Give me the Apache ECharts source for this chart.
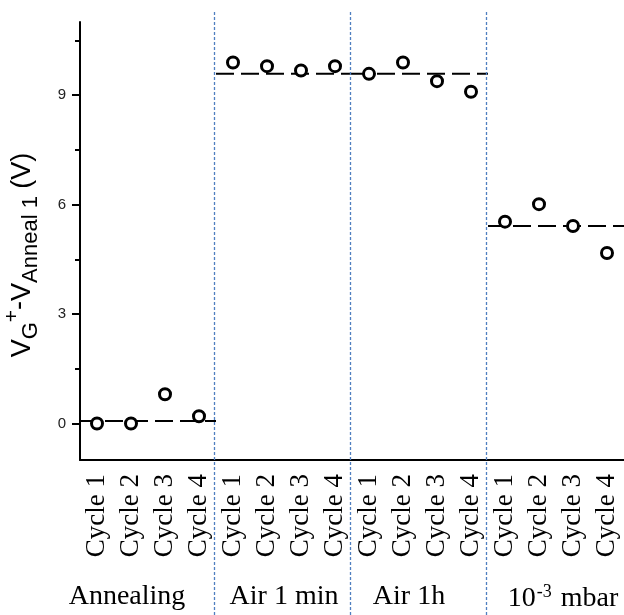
<!DOCTYPE html>
<html>
<head>
<meta charset="utf-8">
<script src="https://cdn.jsdelivr.net/npm/echarts@6/dist/echarts.min.js"></script>
<style>
  html, body { margin: 0; padding: 0; background: #fff; }
  #chart { width: 624px; height: 615px; }
</style>
</head>
<body>
<div id="chart"></div>
<script>
// Measurement conditions and cycle labels
const groups = ['Annealing', 'Air 1 min', 'Air 1h', '10-3 mbar'];
const cycleNames = ['Cycle 1', 'Cycle 2', 'Cycle 3', 'Cycle 4'];

// V_G+ - V_Anneal1 (V) per cycle, four cycles per condition
const annealing = [0.0, 0.0, 0.8, 0.2];
const air1min = [9.89, 9.79, 9.67, 9.79];
const air1h = [9.58, 9.89, 9.38, 9.09];
const vacuum = [5.53, 6.01, 5.41, 4.67];

// Average level drawn as a dashed line across each condition
const groupLevels = [0.07, 9.58, 9.58, 5.41];

// Y axis ticks
const yMajorTicks = [0, 3, 6, 9];
const yMinorTicks = [1.5, 4.5, 7.5, 10.5];

const categories = [];
groups.forEach(() => cycleNames.forEach(c => categories.push(c)));
const values = [].concat(annealing, air1min, air1h, vacuum);

const chart = echarts.init(document.getElementById('chart'));

const levelSeries = groupLevels.map((v, i) => ({
  type: 'line',
  xAxisIndex: 1,
  yAxisIndex: 0,
  symbol: 'none',
  silent: true,
  z: 1,
  lineStyle: { color: '#000', width: 2, type: [18, 7] },
  data: [[i * cycleNames.length, v], [(i + 1) * cycleNames.length, v]]
}));

const serif = 'Liberation Serif';
const sans = 'Liberation Sans';

// Group captions sit a little off-centre under their blocks
const base = { fontFamily: serif, fontSize: 28, color: '#000' };
const groupRich = {
  n: Object.assign({}, base),
  g0: Object.assign({ padding: [0, 42, 0, 0] }, base),
  g1: Object.assign({}, base),
  g2: Object.assign({ padding: [0, 22, 0, 0] }, base),
  g3: Object.assign({ padding: [0, 0, 0, 14] }, base),
  s: { fontFamily: serif, fontSize: 18, color: '#000', padding: [0, 2, 14, 1] }
};

chart.setOption({
  animation: false,
  backgroundColor: '#fff',
  grid: {
    left: 80, right: 0, top: 22, bottom: 155,
    containLabel: false, outerBoundsMode: 'none'
  },
  xAxis: [
    {
      type: 'category',
      data: categories,
      boundaryGap: true,
      axisLine: { onZero: false, lineStyle: { color: '#000', width: 2 } },
      axisTick: { alignWithLabel: true, length: 9, lineStyle: { color: '#000', width: 2 } },
      axisLabel: {
        rotate: 90, interval: 0, margin: 14,
        color: '#000', fontFamily: serif, fontSize: 27
      },
      splitLine: { show: false }
    },
    {
      type: 'value',
      min: 0, max: categories.length,
      show: false
    },
    {
      type: 'category',
      data: groups,
      position: 'bottom',
      offset: 123,
      axisLine: { show: false, onZero: false },
      axisTick: { show: false },
      axisLabel: {
        interval: 0, margin: 0,
        color: '#000', fontFamily: serif, fontSize: 28,
        formatter: function (v, idx) {
          const key = 'g' + idx;
          if (v === '10-3 mbar') {
            return '{' + key + '|10}{s|-3}{n| mbar}';
          }
          return '{' + key + '|' + v + '}';
        },
        rich: groupRich
      },
      splitLine: { show: false }
    }
  ],
  yAxis: [
    {
      type: 'value',
      min: -1, max: 11,
      axisLine: { show: true, onZero: false, lineStyle: { color: '#000', width: 2 } },
      axisTick: { show: true, length: 8, customValues: yMajorTicks, lineStyle: { color: '#000', width: 2 } },
      axisLabel: {
        customValues: yMajorTicks, margin: 14,
        color: '#222', fontFamily: sans, fontSize: 15
      },
      splitLine: { show: false },
      name: '{m|V}{sub|G}{sup|+}{mr|-}{m|V}{sub|Anneal 1}{m| (V)}',
      nameLocation: 'middle',
      nameGap: 37,
      nameRotate: 90,
      nameTextStyle: {
        padding: [0, 28, 0, 0],
        rich: {
          m: { fontFamily: sans, fontSize: 27, color: '#000' },
          mr: { fontFamily: sans, fontSize: 27, color: '#000', padding: [0, 0, 6, 0] },
          sub: { fontFamily: sans, fontSize: 22, color: '#000', padding: [16, 0, 0, 0] },
          sup: { fontFamily: sans, fontSize: 21, color: '#000', padding: [0, 0, 20, 0] }
        }
      }
    },
    {
      type: 'value',
      min: -1, max: 11,
      axisLine: { show: false, onZero: false },
      axisTick: { show: true, length: 5, customValues: yMinorTicks, lineStyle: { color: '#000', width: 2 } },
      axisLabel: { show: false },
      splitLine: { show: false },
      position: 'left'
    }
  ],
  series: [
    ...levelSeries,
    {
      type: 'scatter',
      xAxisIndex: 0,
      yAxisIndex: 0,
      z: 3,
      symbol: 'circle',
      symbolSize: 11,
      itemStyle: { color: '#fff', borderColor: '#000', borderWidth: 3, opacity: 1 },
      data: values
    }
  ]
});

// Dashed blue separators between conditions, placed through the value x axis
const seps = [];
for (let i = 1; i < groups.length; i++) {
  const x = Math.round(chart.convertToPixel({ xAxisIndex: 1 }, i * cycleNames.length)) - 1.5;
  seps.push({
    type: 'line',
    z: 10,
    silent: true,
    shape: { x1: x, y1: 12, x2: x, y2: 615 },
    style: { stroke: '#4f7fc0', lineWidth: 1.3, lineDash: [3, 2] }
  });
}
chart.setOption({ graphic: seps });
</script>
</body>
</html>
